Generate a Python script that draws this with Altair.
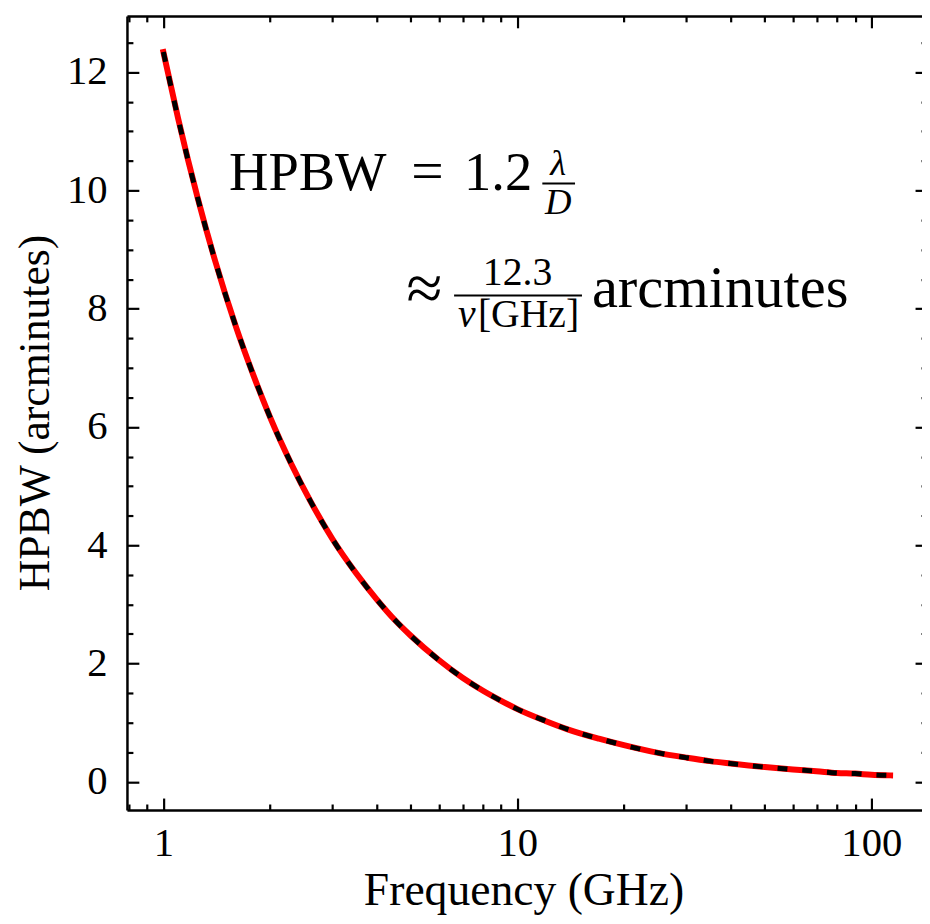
import altair as alt
import pandas as pd

# ---- data ----
freq_ghz = [1.0, 1.1, 1.25, 1.4, 1.6, 1.8, 2.0, 2.3, 2.6, 3.0, 3.5, 4.0, 4.5, 5.0,
            6.0, 7.0, 8.0, 9.0, 10, 12, 14, 17, 20, 25, 30, 35, 40, 50, 60, 70,
            80, 90, 100, 113]
hpbw_arcmin = [12.34, 11.22, 9.87, 8.81, 7.71, 6.86, 6.17, 5.37, 4.75, 4.11, 3.53,
               3.09, 2.74, 2.47, 2.06, 1.76, 1.54, 1.37, 1.23, 1.03, 0.88, 0.73,
               0.62, 0.49, 0.41, 0.35, 0.31, 0.25, 0.21, 0.18, 0.15, 0.14, 0.12, 0.11]

x_major = [1, 10, 100]
x_ticks = [0.8, 0.9, 1, 2, 3, 4, 5, 6, 7, 8, 9, 10, 20, 30, 40, 50, 60, 70, 80, 90, 100]
y_major = [0, 2, 4, 6, 8, 10, 12]
y_ticks = [0, 0.5, 1, 1.5, 2, 2.5, 3, 3.5, 4, 4.5, 5, 5.5, 6, 6.5, 7, 7.5, 8, 8.5,
           9, 9.5, 10, 10.5, 11, 11.5, 12, 12.5]

x_title = "Frequency (GHz)"
y_title = "HPBW (arcminutes)"

df = pd.DataFrame({"freq": freq_ghz, "hpbw": hpbw_arcmin})

FONT = "Liberation Serif"
W, H = 802, 801

xscale = alt.Scale(type="log", domain=[0.789, 143.6], range=[0, 807], nice=False)
yscale = alt.Scale(domain=[-0.475, 12.95], nice=False, zero=False)

common = dict(grid=False, domainColor="black", tickColor="black", labelColor="black",
              titleColor="black", labelFont=FONT, titleFont=FONT,
              titleFontWeight="normal", labelOverlap=False, labelFlush=False)

x_tick_expr = alt.ExprRef(expr="indexof([1,10,100], datum.value) >= 0 ? -12 : -6")
y_tick_expr = alt.ExprRef(expr="datum.value % 2 == 0 ? -12 : -6")

# labelled axes (bottom / left)
x_lab = alt.Axis(orient="bottom", values=x_major, format="d", ticks=False, tickSize=0,
                 domain=True, domainWidth=2.5, labelPadding=46,
                 labelBaseline="alphabetic", labelFontSize=41, title=x_title,
                 titleFontSize=46, titleX=400, titleY=95, titleBaseline="alphabetic",
                 titleAlign="center", **common)
y_lab = alt.Axis(orient="left", values=y_major, ticks=False, tickSize=0, domain=True,
                 domainWidth=2.5, labelPadding=20, labelFontSize=41,
                 labelBaseline="middle", title=y_title, titleFontSize=44,
                 titleAngle=-90, titleX=-79, titleY=400, titleBaseline="alphabetic",
                 titleAlign="center", **common)

# inward ticks bottom / left
x_in = alt.Axis(orient="bottom", values=x_ticks, labels=False, domain=False,
                ticks=True, tickSize=x_tick_expr, tickWidth=2.2, title=None, **common)
y_in = alt.Axis(orient="left", values=y_ticks, labels=False, domain=False,
                ticks=True, tickSize=y_tick_expr, tickWidth=2.2, title=None, **common)

# mirrored ticks top / right
x_top = alt.Axis(orient="top", values=x_ticks, labels=False, domain=True,
                 domainWidth=2.5, ticks=True, tickSize=x_tick_expr, tickWidth=2.2,
                 title=None, **common)
y_right = alt.Axis(orient="right", values=y_ticks, labels=False, domain=False,
                   offset=5, ticks=True, tickSize=y_tick_expr, tickWidth=2.2,
                   title=None, **common)

base = alt.Chart(df)

red = base.mark_line(color="#ff0000", strokeWidth=6, strokeCap="square",
                     interpolate="monotone").encode(
    x=alt.X("freq:Q", scale=xscale, axis=x_lab),
    y=alt.Y("hpbw:Q", scale=yscale, axis=y_lab),
)
black = base.mark_line(color="black", strokeWidth=5, strokeDash=[10, 15],
                       interpolate="monotone").encode(
    x=alt.X("freq:Q", scale=xscale, axis=x_in),
    y=alt.Y("hpbw:Q", scale=yscale, axis=y_in),
)
ghost = base.mark_line(opacity=0).encode(
    x=alt.X("freq:Q", scale=xscale, axis=x_top),
    y=alt.Y("hpbw:Q", scale=yscale, axis=y_right),
)

one = alt.Data(values=[{"k": 1}])
OX, OY = 128, 12  # plot origin on page


def txt(s, px, py, size, align="left", italic=False):
    kw = dict(font=FONT, fontSize=size, align=align, baseline="alphabetic",
              color="black")
    if italic:
        kw["fontStyle"] = "italic"
    return alt.Chart(one).mark_text(**kw).encode(
        x=alt.value(px - OX), y=alt.value(py - OY), text=alt.value(s))


def bar(x1, x2, py):
    return alt.Chart(one).mark_rule(color="black", strokeWidth=2).encode(
        x=alt.value(x1 - OX), x2=alt.value(x2 - OX), y=alt.value(py - OY))


annot = [
    txt("HPBW", 231, 188, 55),
    txt("=", 431, 188, 58, align="center"),
    txt("1.2", 468, 188, 55),
    txt("λ", 563, 172, 37, align="center", italic=True),
    bar(547, 580, 181),
    txt("D", 563, 212, 37, align="center", italic=True),
    txt("≈", 428, 309, 66, align="center"),
    txt("12.3", 522, 283, 40, align="center"),
    bar(458, 587, 294),
    txt("ν", 462, 326, 40, italic=True),
    txt("[GHz]", 482, 326, 40),
    txt("arcminutes", 597, 306, 59),
]

chart = alt.layer(red, black, ghost, *annot).resolve_axis(
    x="independent", y="independent"
).properties(
    width=W, height=H,
    autosize=alt.AutoSizeParams(type="none"),
    padding={"left": 120, "top": 4, "right": 0, "bottom": 103},
).configure_view(stroke=None).configure(background="white")

chart.save("out.html", embed_options={"renderer": "svg", "actions": False})
